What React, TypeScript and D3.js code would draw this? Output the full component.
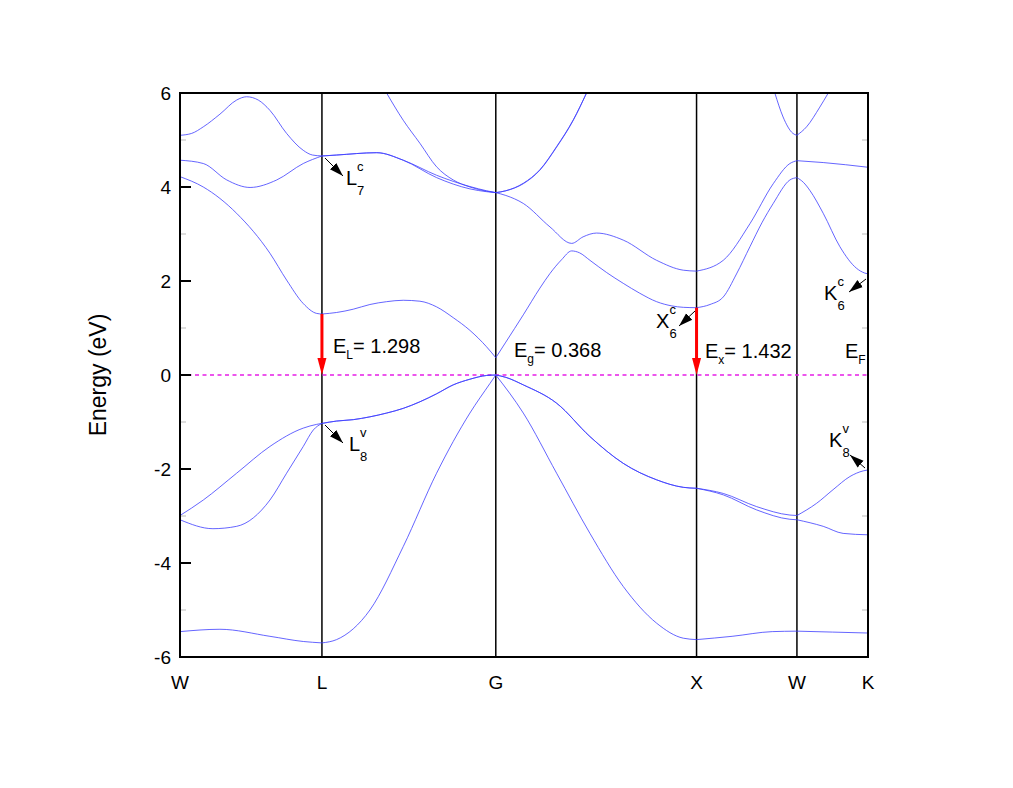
import React from 'react';
import * as d3 from 'd3';

// high-symmetry points along the k-path (units of 2pi/a)
const kPath = [0, 0.707, 1.573, 2.573, 3.073, 3.427];
const kLabels = ['W', 'L', 'G', 'X', 'W', 'K'];
const yTicks = [-6, -4, -2, 0, 2, 4, 6];
const yMinor = [-5, -3, -1, 1, 3, 5];

// bands, [k, E] pairs
const band1 = [
  [0, -5.46], [0.199, -5.41], [0.448, -5.56], [0.614, -5.67], [0.707, -5.70],
  [0.780, -5.63], [0.946, -5.0], [1.112, -3.65], [1.278, -2.09], [1.444, -0.81], [1.544, -0.18], [1.573, 0],
  [1.710, -0.81], [1.876, -2.09], [2.042, -3.37], [2.208, -4.50], [2.374, -5.28], [2.507, -5.60], [2.573, -5.63],
  [2.75, -5.56], [2.95, -5.46], [3.073, -5.45],
  [3.25, -5.47], [3.427, -5.49],
];
const band2 = [
  [0, -2.99], [0.116, -2.66], [0.282, -2.09], [0.448, -1.52], [0.614, -1.13], [0.681, -1.05], [0.707, -1.03],
  [0.780, -0.98], [0.863, -0.95], [0.946, -0.89], [1.029, -0.81], [1.112, -0.71], [1.195, -0.57], [1.278, -0.40],
  [1.361, -0.21], [1.444, -0.09], [1.527, -0.01], [1.573, 0],
  [1.623, -0.05], [1.710, -0.21], [1.876, -0.60], [2.042, -1.31], [2.208, -1.88], [2.374, -2.23], [2.507, -2.39], [2.573, -2.41],
  [2.706, -2.52], [2.872, -2.80], [3.038, -2.98], [3.073, -2.99],
  [3.171, -2.73], [3.253, -2.44], [3.337, -2.16], [3.403, -2.04], [3.427, -2.02],
];
const band3 = [
  [0, -3.08], [0.164, -3.27], [0.282, -3.22], [0.448, -2.66], [0.531, -2.09], [0.614, -1.52], [0.664, -1.17], [0.707, -1.03],
  [0.780, -0.98], [0.863, -0.95], [0.946, -0.89], [1.029, -0.81], [1.112, -0.71], [1.195, -0.57], [1.278, -0.40],
  [1.361, -0.21], [1.444, -0.09], [1.527, -0.01], [1.573, 0],
  [1.623, -0.05], [1.710, -0.21], [1.876, -0.60], [2.042, -1.31], [2.208, -1.88], [2.374, -2.23], [2.507, -2.39], [2.573, -2.41],
  [2.706, -2.55], [2.872, -2.87], [3.038, -3.07], [3.073, -3.08],
  [3.204, -3.22], [3.303, -3.37], [3.427, -3.40],
];
const bandC = [
  [0, 4.22], [0.116, 4.0], [0.282, 3.44], [0.448, 2.59], [0.531, 2.02], [0.614, 1.52], [0.681, 1.31], [0.707, 1.298],
  [0.780, 1.33], [0.863, 1.40], [0.946, 1.50], [1.029, 1.56], [1.112, 1.59], [1.195, 1.57], [1.278, 1.45],
  [1.361, 1.22], [1.444, 0.95], [1.527, 0.60], [1.573, 0.368],
  [1.623, 0.70], [1.710, 1.28], [1.793, 1.85], [1.843, 2.16], [1.90, 2.45], [1.951, 2.64], [1.99, 2.60], [2.042, 2.44],
  [2.125, 2.18], [2.208, 1.95], [2.29, 1.74], [2.374, 1.56], [2.45, 1.47], [2.507, 1.44], [2.573, 1.432],
  [2.64, 1.50], [2.706, 1.66], [2.772, 2.15], [2.839, 2.73], [2.90, 3.25], [2.955, 3.65], [3.038, 4.15], [3.073, 4.20],
  [3.105, 4.10], [3.137, 3.93], [3.204, 3.44], [3.287, 2.73], [3.370, 2.27], [3.41, 2.17], [3.427, 2.15],
];
const bandB = [
  [0, 4.57], [0.116, 4.50], [0.233, 4.15], [0.349, 3.99], [0.482, 4.15], [0.614, 4.50], [0.707, 4.66],
  [0.780, 4.68], [0.980, 4.73], [1.112, 4.57], [1.278, 4.20], [1.444, 3.96], [1.527, 3.90], [1.573, 3.88],
  [1.623, 3.82], [1.710, 3.65], [1.843, 3.15], [1.951, 2.80], [2.008, 2.94], [2.075, 3.02], [2.208, 2.87],
  [2.374, 2.44], [2.507, 2.23], [2.573, 2.21],
  [2.706, 2.44], [2.839, 3.22], [2.955, 4.07], [3.038, 4.50], [3.073, 4.56],
  [3.204, 4.52], [3.427, 4.42],
];
const bandA = [
  [0, 5.10], [0.058, 5.14], [0.116, 5.28], [0.199, 5.55], [0.282, 5.85], [0.332, 5.92], [0.39, 5.85], [0.448, 5.63],
  [0.531, 5.14], [0.614, 4.78], [0.66, 4.68], [0.707, 4.66],
  [0.780, 4.68], [0.980, 4.73], [1.112, 4.57], [1.278, 4.25], [1.444, 4.01], [1.527, 3.92], [1.573, 3.88],
  [1.623, 3.92], [1.710, 4.07], [1.793, 4.36], [1.876, 4.85], [1.959, 5.42], [2.025, 6.0],
];
const bandAtop = [
  [2.963, 6.0], [3.004, 5.49], [3.053, 5.14], [3.073, 5.10], [3.121, 5.28], [3.187, 5.70], [3.229, 6.0],
];
const bandD = [
  [1.029, 6.0], [1.112, 5.42], [1.195, 4.93], [1.278, 4.43], [1.361, 4.15], [1.444, 4.0], [1.527, 3.91], [1.573, 3.88],
  [1.623, 3.92], [1.710, 4.08], [1.793, 4.37], [1.876, 4.86], [1.959, 5.43], [2.025, 6.0],
];
const bands = [band1, band2, band3, bandC, bandB, bandA, bandAtop, bandD];

// gaps marked by red arrows
const gapL = 1.298;
const gapX = 1.432;

function splitAtSym(pts) {
  const segs = [];
  let cur = [pts[0]];
  for (let i = 1; i < pts.length; i++) {
    cur.push(pts[i]);
    const onSym = kPath.some(k => Math.abs(k - pts[i][0]) < 1e-6);
    if (onSym && i < pts.length - 1) {
      segs.push(cur);
      cur = [pts[i]];
    }
  }
  segs.push(cur);
  return segs;
}

const FONT = '"Liberation Sans", Arial, Helvetica, sans-serif';

function Label({ x, y, main, sup, sub }) {
  const w = main === 'L' ? 11 : 13.5;
  return (
    <g fontFamily={FONT} fill="black">
      <text x={x} y={y} fontSize={20}>{main}</text>
      <text x={x + w} y={y - 14} fontSize={13}>{sup}</text>
      <text x={x + w} y={y + 10} fontSize={13}>{sub}</text>
    </g>
  );
}

function GapText({ x, y, sub, value }) {
  return (
    <text x={x} y={y} fontFamily={FONT} fontSize={20} fill="black">
      <tspan>E</tspan>
      <tspan fontSize={12} dy={6}>{sub}</tspan>
      <tspan dy={-6}>{value}</tspan>
    </text>
  );
}

export default function App() {
  const left = 180, right = 868, top = 93, bottom = 657;
  const x = d3.scaleLinear().domain([kPath[0], kPath[kPath.length - 1]]).range([left, right]);
  const y = d3.scaleLinear().domain([-6, 6]).range([bottom, top]);
  const line = d3.line().x(d => x(d[0])).y(d => y(d[1])).curve(d3.curveMonotoneX);

  const arrows = [
    [325, 158, 343, 176],
    [325, 425, 343, 443],
    [695, 311, 679, 326],
    [866, 279, 849, 292],
    [865, 468, 850, 455],
  ];

  return (
    <svg width={1013} height={788} style={{ position: 'absolute', left: 0, top: 0, background: 'white' }}>
      <defs>
        <marker id="blk" viewBox="0 0 10 10" refX="10" refY="5" markerWidth="14" markerHeight="14"
          markerUnits="userSpaceOnUse" orient="auto">
          <path d="M0,1.8 L10,5 L0,8.2 z" fill="black" />
        </marker>
        <clipPath id="plot">
          <rect x={left} y={top} width={right - left} height={bottom - top} />
        </clipPath>
      </defs>

      {/* high-symmetry lines */}
      {kPath.slice(1, -1).map((k, i) => (
        <line key={i} x1={x(k)} x2={x(k)} y1={top} y2={bottom} stroke="black" strokeWidth={1.5} />
      ))}

      {/* minor ticks */}
      {yMinor.map(v => (
        <g key={v} stroke="#bbb" strokeWidth={1}>
          <line x1={left} x2={left + 6} y1={y(v)} y2={y(v)} />
          <line x1={right - 6} x2={right} y1={y(v)} y2={y(v)} />
        </g>
      ))}

      {/* Fermi level */}
      <line x1={left} x2={right} y1={y(0)} y2={y(0)} stroke="#e61ee6" strokeWidth={1.6} strokeDasharray="4,3.5" />

      <g clipPath="url(#plot)" fill="none" stroke="#3d3dff" strokeWidth={0.8}>
        {bands.map((b, i) =>
          splitAtSym(b).map((s, j) => <path key={i + '-' + j} d={line(s)} />)
        )}
      </g>

      {/* red gap arrows */}
      {[[kPath[1], gapL], [kPath[3], gapX]].map(([k, e], i) => (
        <g key={i}>
          <line x1={x(k)} x2={x(k)} y1={y(e)} y2={y(0) - 14} stroke="red" strokeWidth={3} />
          <path d={`M${x(k) - 4.5},${y(0) - 17} L${x(k) + 4.5},${y(0) - 17} L${x(k)},${y(0)} z`} fill="red" />
        </g>
      ))}

      {/* pointer arrows */}
      {arrows.map((a, i) => (
        <line key={i} x1={a[0]} y1={a[1]} x2={a[2]} y2={a[3]} stroke="black" strokeWidth={1} markerEnd="url(#blk)" />
      ))}

      <Label x={346} y={185} main="L" sup="c" sub="7" />
      <Label x={349} y={451} main="L" sup="v" sub="8" />
      <Label x={656} y={328} main="X" sup="c" sub="6" />
      <Label x={824} y={300} main="K" sup="c" sub="6" />
      <Label x={829} y={447} main="K" sup="v" sub="8" />

      <GapText x={333} y={353} sub="L" value="= 1.298" />
      <GapText x={514} y={357} sub="g" value="= 0.368" />
      <GapText x={705} y={358} sub="x" value="= 1.432" />
      <GapText x={845} y={358} sub="F" value="" />

      {/* frame and major ticks */}
      <rect x={left} y={top} width={right - left} height={bottom - top} fill="none" stroke="black" strokeWidth={2} />
      {yTicks.map(v => (
        <g key={v}>
          <line x1={left} x2={left + 11} y1={y(v)} y2={y(v)} stroke="black" strokeWidth={2} />
          <text x={171} y={y(v)} dy="0.36em" textAnchor="end" fontFamily={FONT} fontSize={19}>{v}</text>
        </g>
      ))}
      {kPath.map((k, i) => (
        <text key={i} x={x(k)} y={689} textAnchor="middle" fontFamily={FONT} fontSize={19}>{kLabels[i]}</text>
      ))}
      <text transform={`translate(106,375) rotate(-90)`} textAnchor="middle" fontFamily={FONT} fontSize={23}>Energy (eV)</text>
    </svg>
  );
}
